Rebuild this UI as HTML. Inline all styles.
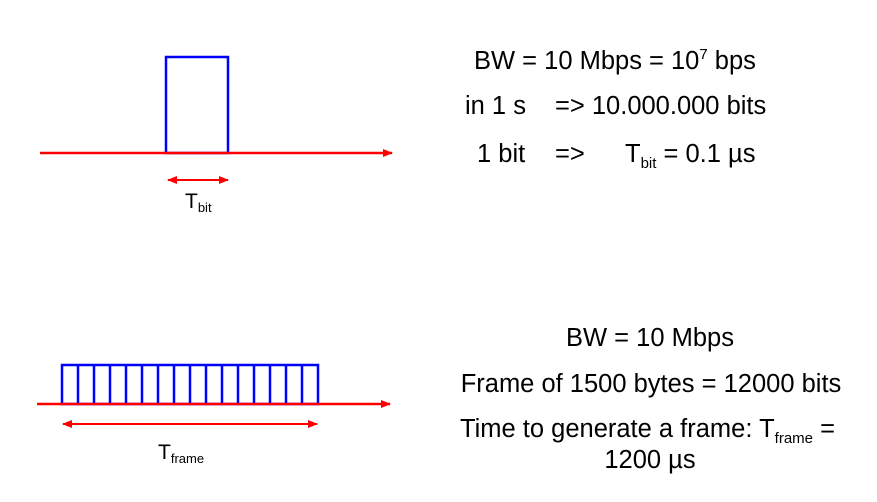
<!DOCTYPE html>
<html><head><meta charset="utf-8"><style>
html,body{margin:0;padding:0;background:#fff;}
svg{display:block;}
text{font-family:"Liberation Sans",Arial,sans-serif;fill:#000;}
</style></head><body>
<svg width="877" height="502" viewBox="0 0 877 502" xmlns="http://www.w3.org/2000/svg">
<defs>
<marker id="ah" markerWidth="10" markerHeight="8" refX="9" refY="4" orient="auto" markerUnits="userSpaceOnUse">
<path d="M0,0 L10,4 L0,8 z" fill="#ff0000"/></marker>
<marker id="ahs" markerWidth="10" markerHeight="8" refX="1" refY="4" orient="auto" markerUnits="userSpaceOnUse">
<path d="M10,0 L0,4 L10,8 z" fill="#ff0000"/></marker>
</defs>
<rect x="166" y="57" width="62" height="96" fill="none" stroke="#0000ff" stroke-width="2.5"/>
<line x1="40" y1="153" x2="392" y2="153" stroke="#ff0000" stroke-width="2.5" marker-end="url(#ah)"/>
<line x1="168" y1="180" x2="228" y2="180" stroke="#ff0000" stroke-width="2" marker-end="url(#ah)" marker-start="url(#ahs)"/>
<text x="185" y="208" font-size="21">T<tspan font-size="13" dy="4">bit</tspan></text>
<g stroke="#0000ff" stroke-width="2.5" fill="none">
<rect x="62" y="365" width="256" height="39"/>
<line x1="78" y1="365" x2="78" y2="404"/><line x1="94" y1="365" x2="94" y2="404"/>
<line x1="110" y1="365" x2="110" y2="404"/><line x1="126" y1="365" x2="126" y2="404"/>
<line x1="142" y1="365" x2="142" y2="404"/><line x1="158" y1="365" x2="158" y2="404"/>
<line x1="174" y1="365" x2="174" y2="404"/><line x1="190" y1="365" x2="190" y2="404"/>
<line x1="206" y1="365" x2="206" y2="404"/><line x1="222" y1="365" x2="222" y2="404"/>
<line x1="238" y1="365" x2="238" y2="404"/><line x1="254" y1="365" x2="254" y2="404"/>
<line x1="270" y1="365" x2="270" y2="404"/><line x1="286" y1="365" x2="286" y2="404"/>
<line x1="302" y1="365" x2="302" y2="404"/>
</g>
<line x1="37" y1="404" x2="390" y2="404" stroke="#ff0000" stroke-width="2.5" marker-end="url(#ah)"/>
<line x1="63" y1="424" x2="317" y2="424" stroke="#ff0000" stroke-width="2" marker-end="url(#ah)" marker-start="url(#ahs)"/>
<text x="158" y="459" font-size="21">T<tspan font-size="13" dy="4">frame</tspan></text>
<text x="474" y="69" font-size="25.5">BW = 10 Mbps = 10<tspan font-size="15" dy="-10">7</tspan><tspan dy="10"> bps</tspan></text>
<text x="465" y="114" font-size="25.5">in 1 s</text>
<text x="555" y="114" font-size="25.5">=&gt; 10.000.000 bits</text>
<text x="477" y="162" font-size="25.5">1 bit</text>
<text x="555" y="162" font-size="25.5">=&gt;</text>
<text x="625" y="162" font-size="25.5">T<tspan font-size="15" dy="6">bit</tspan><tspan dy="-6"> = 0.1 µs</tspan></text>
<text x="650" y="346" font-size="25.5" text-anchor="middle">BW = 10 Mbps</text>
<text x="651" y="392" font-size="25.5" text-anchor="middle">Frame of 1500 bytes  = 12000 bits</text>
<text x="460" y="437" font-size="25.5">Time to generate a frame: T<tspan font-size="15" dy="6">frame</tspan><tspan dy="-6"> =</tspan></text>
<text x="650" y="468" font-size="25.5" text-anchor="middle">1200 µs</text>
</svg>
</body></html>
